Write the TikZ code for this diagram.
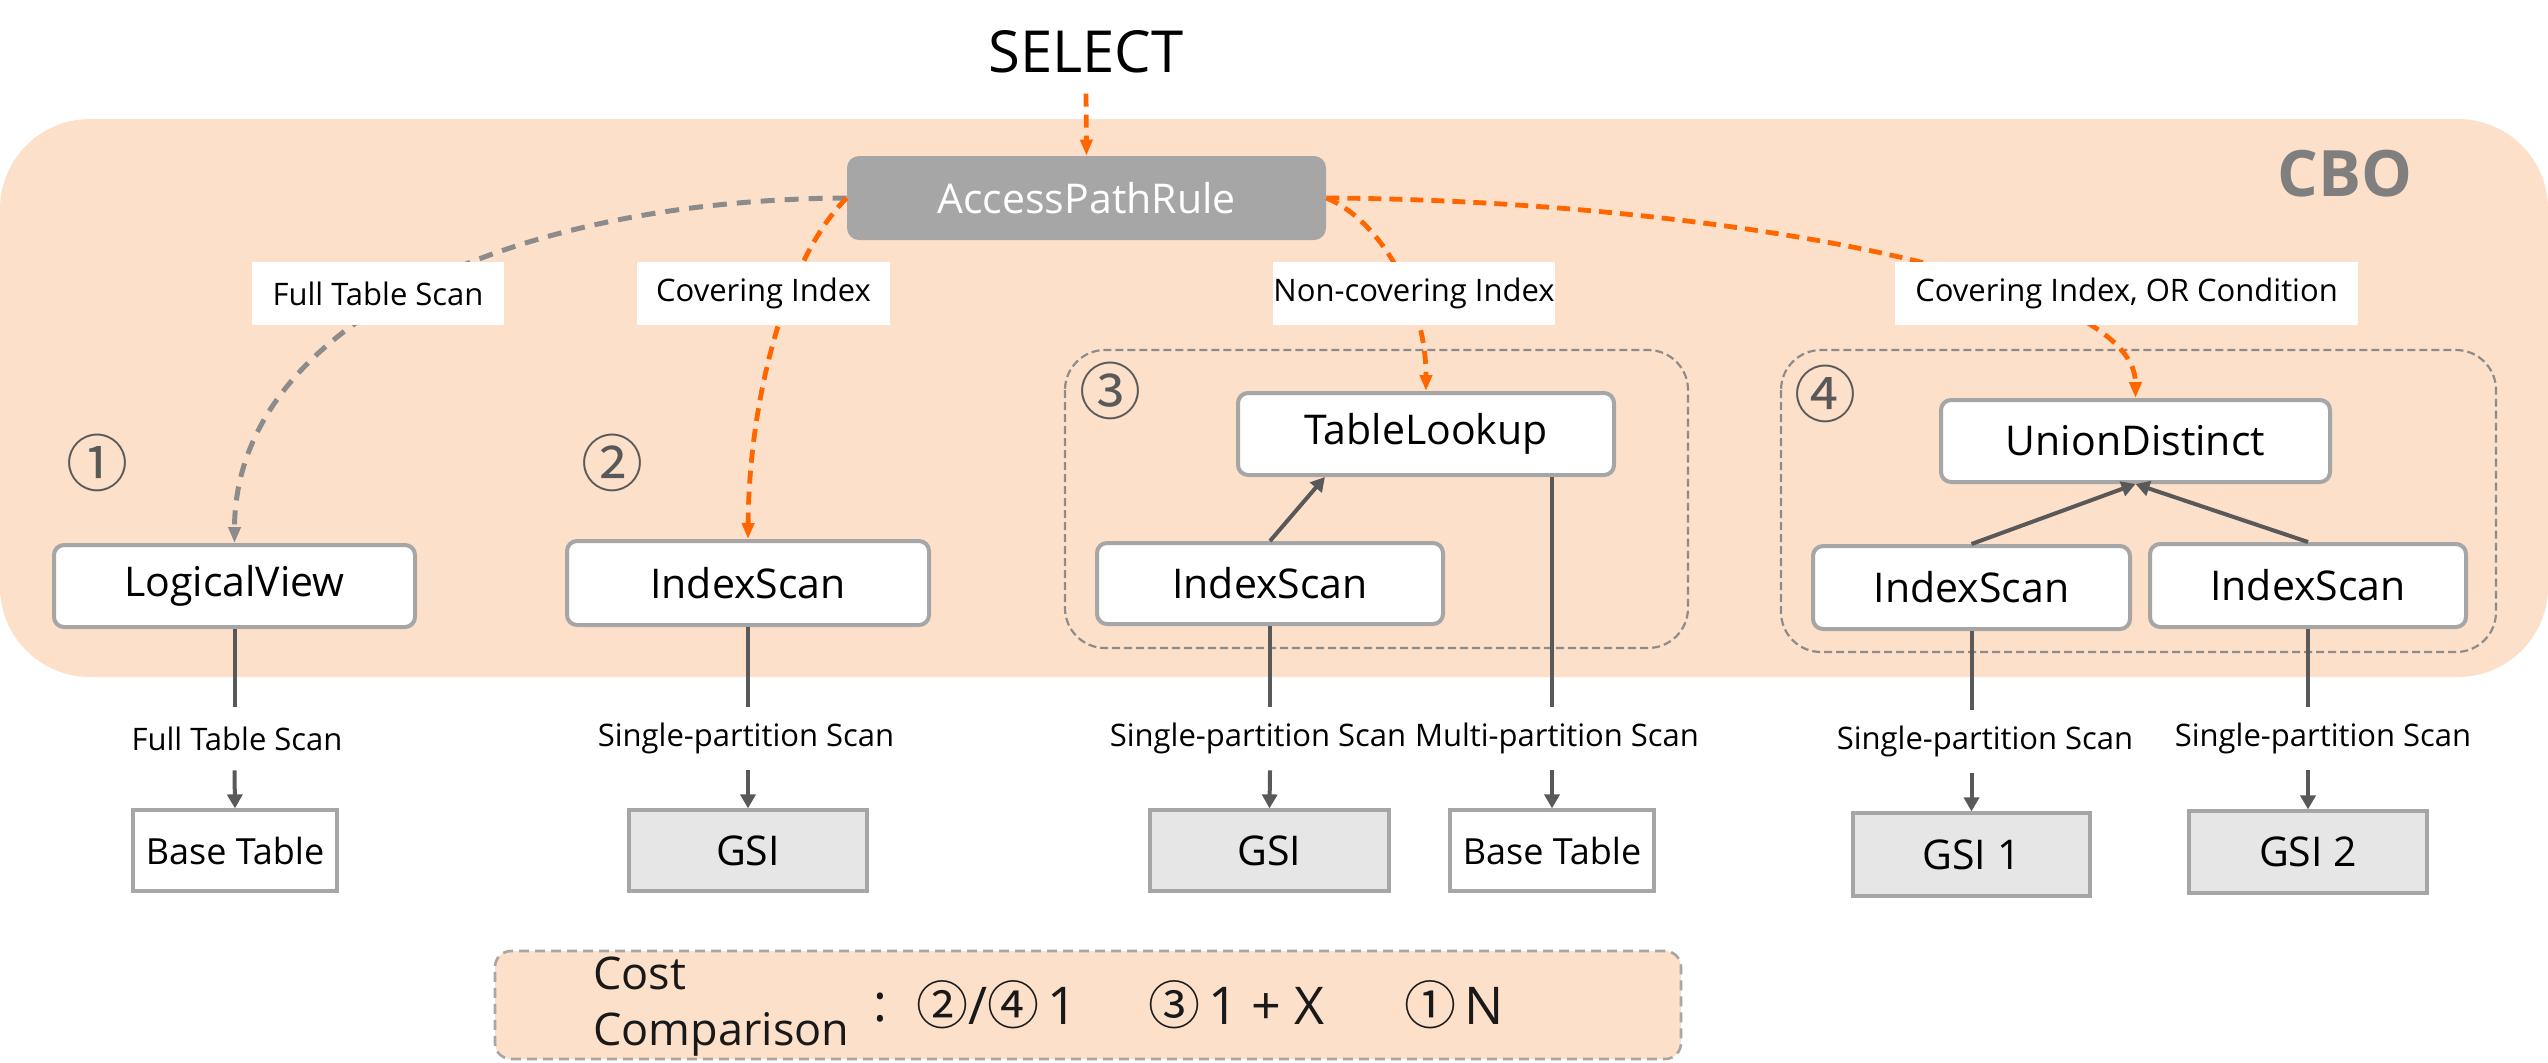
\documentclass[tikz,border=0pt]{standalone}
\usepackage{fontspec}
\setmainfont{Open Sans}
\newfontfamily\circfont{Noto Sans CJK SC}
\usetikzlibrary{arrows.meta,calc}
\definecolor{peach}{HTML}{FDE0CA}
\definecolor{orng}{HTML}{FF6600}
\definecolor{gconn}{HTML}{8C8C8C}
\definecolor{dark}{HTML}{595959}
\definecolor{bord}{HTML}{A6A6A6}
\definecolor{aprfill}{HTML}{A6A6A6}
\definecolor{gsifill}{HTML}{E6E6E6}
\definecolor{cbogray}{HTML}{7F7F7F}
\definecolor{grpline}{HTML}{8C8C8C}
\tikzset{
  opbox/.style={draw=bord, line width=2pt, rounded corners=5pt, fill=white, inner sep=0pt,
    font=\fontsize{20.5}{24}\selectfont, text=black},
  store/.style={draw=bord, line width=1.6pt, inner sep=0pt, font=\fontsize{20.5}{24}\selectfont, text=black},
  basebox/.style={store, fill=white, font=\fontsize{18}{21}\selectfont},
  gsibox/.style={store, fill=gsifill},
  toplbl/.style={fill=white, inner sep=0pt, minimum height=31.5pt, font=\fontsize{15.5}{18}\selectfont, text=black},
  botlbl/.style={inner sep=0pt, minimum height=31.5pt, font=\fontsize{15.5}{18}\selectfont, text=black},
  circnum/.style={inner sep=0pt, font=\circfont\fontsize{31}{33}\selectfont, text=dark},
  costtxt/.style={inner sep=0pt, font=\fontsize{26}{30}\selectfont, text=black!90},
  grpbox/.style={draw=grpline, line width=1.1pt, dash pattern=on 4pt off 2pt, rounded corners=20pt},
  oconn/.style={draw=orng, line width=2.4pt, dash pattern=on 6.5pt off 4pt, -{Triangle[length=8pt,width=6pt]}},
  gconnst/.style={draw=gconn, line width=2.5pt, dash pattern=on 7pt off 5pt, -{Triangle[length=8pt,width=6pt]}},
  dline/.style={draw=dark, line width=2pt},
  darr/.style={draw=dark, line width=2pt, -{Triangle[length=7pt,width=7.5pt]}}
}
\newcommand{\cc}[1]{{\circfont\fontsize{26}{28}\selectfont #1}}
\begin{document}
\begin{tikzpicture}[x=0.5pt,y=-0.5pt]
\useasboundingbox (0,0) rectangle (2548,1062);
% CBO background
\fill[peach, rounded corners=45pt] (0,119) rectangle (2548,677);
\node[inner sep=0pt, font=\bfseries\fontsize{32}{36}\selectfont, text=cbogray] (cbo) at (2345,174) {CBO};
% group boxes
\draw[grpbox] (1065,350) rectangle (1688,648);
\draw[grpbox] (1781,350) rectangle (2496,652);
% SELECT and rule
\node[inner sep=0pt, font=\fontsize{29}{33}\selectfont, text=black] (select) at (1086,52) {SELECT};
\node[fill=aprfill, rounded corners=6pt, inner sep=0pt, minimum width=239.5pt, minimum height=42pt,
  font=\fontsize{20.5}{24}\selectfont, text=white] (apr) at (1086.5,198) {AccessPathRule};
\coordinate (selbot) at ($(select.south)+(0,20)$);
% operator nodes
\node[opbox, minimum width=180.5pt, minimum height=41pt] (lv) at (234.5,586) {LogicalView};
\node[opbox, minimum width=181pt, minimum height=42pt] (is2) at (748,583) {IndexScan};
\node[opbox, minimum width=188pt, minimum height=41pt] (tl) at (1426,434) {TableLookup};
\node[opbox, minimum width=173pt, minimum height=40.5pt] (is3) at (1270,583.5) {IndexScan};
\node[opbox, minimum width=194.5pt, minimum height=41pt] (ud) at (2135.5,441) {UnionDistinct};
\node[opbox, minimum width=158.5pt, minimum height=41.5pt] (is4a) at (1971.5,587.5) {IndexScan};
\node[opbox, minimum width=158pt, minimum height=41.5pt] (is4b) at (2308,585.5) {IndexScan};
% circled numbers
\node[circnum] (c1) at (97,463) {①};
\node[circnum] (c2) at (612,463) {②};
\node[circnum] (c3) at (1110,391) {③};
\node[circnum] (c4) at (1825,394) {④};
% storage boxes
\node[basebox, minimum width=102pt, minimum height=40.5pt] (bt1) at (235,850.5) {Base Table};
\node[gsibox, minimum width=119pt, minimum height=40.5pt] (gsi2) at (748,850.5) {GSI};
\node[gsibox, minimum width=119.5pt, minimum height=40.5pt] (gsi3) at (1269.5,850.5) {GSI};
\node[basebox, minimum width=102pt, minimum height=40.5pt] (bt3) at (1552,850.5) {Base Table};
\node[gsibox, minimum width=118.5pt, minimum height=41.5pt] (gsi41) at (1971.5,854.5) {GSI 1};
\node[gsibox, minimum width=119pt, minimum height=41pt] (gsi42) at (2308,852) {GSI 2};
% dashed connectors from the rule
\draw[oconn] (selbot) -- (apr.north);
\draw[gconnst] (apr.west) .. controls (500,200) and (235,330) .. (lv.north);
\draw[oconn] (apr.west) .. controls (785,260) and (749,400) .. (is2.north);
\draw[oconn] (apr.east) .. controls (1380,220) and (1426,300) .. (tl.north);
\draw[oconn] (apr.east) .. controls (1700,200) and (2135,275) .. (ud.north);
% labels on dashed connectors
\node[toplbl, minimum width=126pt] (l1) at (378,293.5) {Full Table Scan};
\node[toplbl, minimum width=126.5pt] (l2) at (763.5,293.5) {Covering Index};
\node[toplbl, minimum width=139pt] (l3) at (1414,293.5) {Non-covering Index};
\node[toplbl, minimum width=231.5pt] (l4) at (2126.5,293.5) {Covering Index, OR Condition};
% inner arrows
\draw[darr] (is3.north) -- ($(tl.south west)!0.234!(tl.south east)$);
\draw[darr] (is4a.north) -- (ud.south);
\draw[darr] (is4b.north) -- (ud.south);
% bottom labels
\node[botlbl] (b1) at (237,738.5) {Full Table Scan};
\node[botlbl] (b2) at (746,738.5) {Single-partition Scan};
\node[botlbl] (b3) at (1258,738.5) {Single-partition Scan};
\node[botlbl] (b4) at (1557,738.5) {Multi-partition Scan};
\node[botlbl] (b5) at (1985,741.5) {Single-partition Scan};
\node[botlbl] (b6) at (2323,738.5) {Single-partition Scan};
% bottom connectors
\draw[dline] (lv.south) -- (b1.north -| lv.south);
\draw[darr] (b1.south -| lv.south) -- (bt1.north);
\draw[dline] (is2.south) -- (b2.north -| is2.south);
\draw[darr] (b2.south -| is2.south) -- (gsi2.north);
\draw[dline] (is3.south) -- (b3.north -| is3.south);
\draw[darr] (b3.south -| is3.south) -- (gsi3.north);
\draw[dline] (tl.south -| bt3.north) -- (b4.north -| bt3.north);
\draw[darr] (b4.south -| bt3.north) -- (bt3.north);
\draw[dline] (is4a.south) -- (b5.north -| is4a.south);
\draw[darr] (b5.south -| is4a.south) -- (gsi41.north);
\draw[dline] (is4b.south) -- (b6.north -| is4b.south);
\draw[darr] (b6.south -| is4b.south) -- (gsi42.north);
% cost comparison
\node[fill=peach, draw=bord, line width=1.3pt, dash pattern=on 5pt off 3pt, rounded corners=8pt,
  minimum width=593pt, minimum height=54pt, inner sep=0pt] (cost) at (1088,1005) {};
\node[anchor=base west, inner sep=0pt, font=\fontsize{22.5}{26}\selectfont, text=black!90] (cost1) at (593,989) {Cost};
\node[anchor=base west, inner sep=0pt, font=\fontsize{22.5}{26}\selectfont, text=black!90] (cost2) at (593,1045) {Comparison};
\node[costtxt] (colon) at (880,1008) {:};
\node[costtxt, anchor=base west] (v24) at (916,1024) {\cc{②}/\cc{④}\hspace{4pt}1};
\node[costtxt, anchor=base west] (v3) at (1148,1024) {\cc{③}\hspace{4pt}1 + X};
\node[costtxt, anchor=base west] (v1) at (1404,1024) {\cc{①}\hspace{4pt}N};
\end{tikzpicture}
\end{document}
